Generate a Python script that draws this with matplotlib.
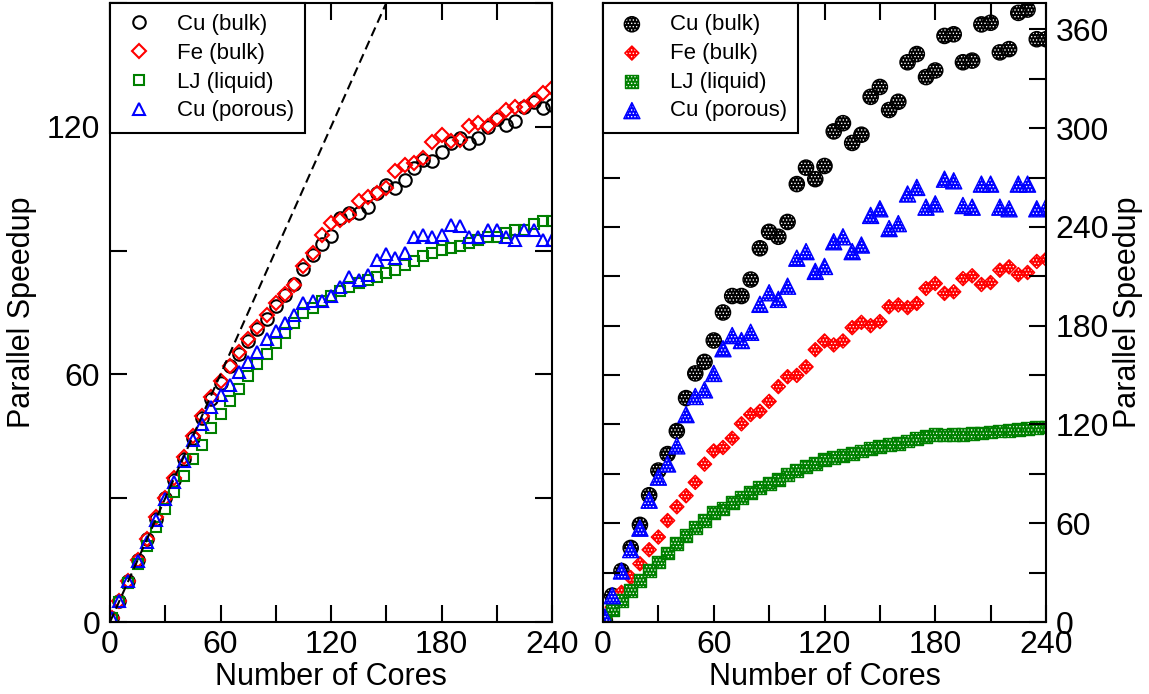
import matplotlib.pyplot as plt
from matplotlib.ticker import MultipleLocator
from matplotlib.legend_handler import HandlerTuple

plt.rcParams['font.family'] = ['Liberation Sans', 'DejaVu Sans']
plt.rcParams['hatch.linewidth'] = 0.6

# number of cores (same grid for every series)
cores = [1] + list(range(5, 241, 5))

# left panel: speedup
left_cu_bulk = [1, 5, 10, 15, 20, 25, 30, 34.5, 39.5, 44.5,
                49.5, 54, 58, 62, 65, 68, 71, 73.5, 76.5, 79.3,
                82, 85.5, 89, 91.5, 93.5, 97.9, 99.2, 99.1, 100.5, 104,
                106, 105.1, 107.2, 110, 112, 111.6, 113.8, 116, 117.3, 116,
                117.4, 120, 121.9, 120.5, 121.5, 124.9, 125.9, 124.5, 125.3]
left_fe_bulk = [1, 5, 10, 15, 20, 25.5, 30, 35, 40, 45,
                50, 54.5, 58.5, 62, 65.5, 68.5, 71.5, 74.4, 77.3, 79.5,
                81.7, 86.2, 89.4, 93.8, 96.7, 97.5, 98.7, 101.9, 103.1, 104,
                105.1, 109.2, 110.8, 111.2, 112.4, 116.2, 118.1, 116.5, 116.9, 120.3,
                120.9, 120.3, 122.1, 124.1, 124.9, 124.8, 126.6, 128.2, 129.4]
left_lj = [1, 4.8, 9.5, 14, 18.5, 23, 27.5, 31.5, 35.5, 39.5,
           43, 47, 50.5, 53.5, 56.5, 59.5, 62.5, 65, 67.5, 70,
           72.5, 74.8, 76.1, 77.7, 78.9, 80.1, 81.3, 82.1, 82.9, 83.7,
           84.5, 85.3, 86.6, 87.6, 88.6, 89.4, 90.2, 90.6, 91, 91.8,
           92.5, 93.3, 93.4, 94.2, 95, 95, 96.5, 97.1, 97.1]
left_cu_porous = [1, 5, 10, 14.8, 19.5, 24.8, 29.7, 34, 39, 44,
                  48, 52, 55, 57.5, 60.5, 63, 65.5, 68.5, 70.5, 72.5,
                  74.4, 77.3, 77.7, 77.7, 78.9, 81.1, 83.6, 82.9, 84.1, 87.8,
                  89.2, 88.2, 89.4, 93.3, 93.8, 93.3, 93.8, 96.3, 95.9, 93.3,
                  93.3, 95, 95, 93.3, 92.6, 95, 95, 92.6, 92.6]
ideal_x = [0, 150]
ideal_y = [0, 150]

# right panel: speedup
right_cu_bulk = [1, 16, 31, 45, 59, 77, 92, 102, 116, 136,
                 151, 158, 171, 188, 198, 198, 208, 227, 237, 234,
                 243, 266, 276, 269, 277, 298, 303, 291, 296, 319,
                 325, 311, 316, 340, 345, 331, 335, 356, 357, 340,
                 341, 363, 364, 346, 348, 370, 372, 354, 354]
right_fe_bulk = [2, 9, 18, 27, 35.4, 43.9, 51.6, 61.6, 70, 76.7,
                 84.8, 95.9, 103.9, 106, 111.6, 120.4, 126, 128, 134, 143,
                 149, 149.8, 155, 165.4, 170.7, 168.3, 170.7, 178.8, 182, 180,
                 182.5, 191.5, 192.6, 191, 193.5, 202.6, 205.6, 199.6, 200.6, 208.6,
                 210.3, 205, 206.2, 213.7, 215.7, 211, 212.3, 219, 220.4]
right_lj = [2.2, 7.3, 13.3, 19.3, 25.4, 31.4, 36.5, 41.9, 47.5, 52.6,
            57.2, 61.6, 66.5, 68.7, 72.7, 75.7, 78.7, 81.8, 84.2, 86.8,
            89.4, 91.8, 94.5, 96.5, 98.9, 99.9, 100.9, 102.3, 103.9, 105.3,
            106.5, 107.6, 108.6, 110, 111.4, 112.6, 114, 113.6, 114, 114,
            114.4, 114.8, 115.4, 116, 116.4, 117, 117.6, 118, 118.4]
right_cu_porous = [3, 16, 31, 44, 57, 74, 88, 96, 107, 126,
                   137, 141, 151, 166, 174, 171, 176, 193, 200, 196,
                   204, 221, 225, 213, 216, 231, 234, 225, 229, 247,
                   251, 239, 242, 260, 264, 252, 254, 269, 268, 253,
                   252, 266, 266, 252, 251, 266, 266, 251, 252]

labels = ['Cu (bulk)', 'Fe (bulk)', 'LJ (liquid)', 'Cu (porous)']
colors = ['black', 'red', 'green', 'blue']
markers = ['o', 'D', 's', '^']

fig = plt.figure(figsize=(11.49, 6.94), dpi=100)
ax1 = fig.add_axes([110 / 1149, 72 / 694, 442 / 1149, 619 / 694])
ax2 = fig.add_axes([603 / 1149, 72 / 694, 443 / 1149, 619 / 694])


def style(ax, ymax):
    ax.set_xlim(0, 240)
    ax.set_ylim(0, ymax)
    ax.xaxis.set_major_locator(MultipleLocator(60))
    ax.xaxis.set_minor_locator(MultipleLocator(30))
    ax.yaxis.set_major_locator(MultipleLocator(60))
    ax.yaxis.set_minor_locator(MultipleLocator(30))
    ax.tick_params(which='both', direction='in', length=12, width=1.5,
                   top=True, right=True, left=True, bottom=True)
    ax.tick_params(which='major', labelsize=23)
    ax.tick_params(axis='x', pad=6)
    ax.tick_params(axis='y', pad=7)
    for s in ax.spines.values():
        s.set_linewidth(1.5)
    ax.set_xlabel('Number of Cores', fontsize=22)
    ax.xaxis.set_label_coords(0.5, -0.064)


leg_kw = dict(loc='upper left', borderaxespad=0, fancybox=False,
              edgecolor='black', framealpha=1, fontsize=16, handlelength=1.6,
              handletextpad=0.9, labelspacing=0.35, borderpad=0.5)

# ---- left panel
left_data = [left_cu_bulk, left_fe_bulk, left_lj, left_cu_porous]
left_ms = [9, 7, 7.5, 9]
for y, c, m, lab, ms in zip(left_data, colors, markers, labels, left_ms):
    ax1.plot(cores, y, linestyle='none', marker=m, ms=ms, mfc='none',
             mec=c, mew=1.5, label=lab)
ax1.plot(ideal_x, ideal_y, color='black', lw=1.5, linestyle=(0, (4.5, 2.5)),
         zorder=5)
style(ax1, 150)
ax1.set_ylabel('Parallel Speedup', fontsize=22)
ax1.yaxis.set_label_coords(-0.165, 0.5)
ax1.legend(**leg_kw).get_frame().set_linewidth(1.5)

# ---- right panel
right_data = [right_cu_bulk, right_fe_bulk, right_lj, right_cu_porous]
right_s = [120, 52, 85, 135]
handles = []
for y, c, m, lab, s in zip(right_data, colors, markers, labels, right_s):
    h1 = ax2.scatter(cores, y, s=s, marker=m, facecolor=c, edgecolor='white',
                     hatch='.....', linewidths=0)
    h2 = ax2.scatter(cores, y, s=s, marker=m, facecolor='none', edgecolor=c,
                     linewidths=1.0)
    handles.append((h1, h2))
style(ax2, 376)
ax2.yaxis.tick_right()
ax2.tick_params(which='both', left=True, right=True)
ax2.yaxis.set_label_position('right')
ax2.set_ylabel('Parallel Speedup', fontsize=22)
ax2.yaxis.set_label_coords(1.151, 0.5)
ax2.legend(handles, labels,
           handler_map={tuple: HandlerTuple(ndivide=1, pad=0)},
           **leg_kw).get_frame().set_linewidth(1.5)

fig.savefig('out.png', dpi=100)
